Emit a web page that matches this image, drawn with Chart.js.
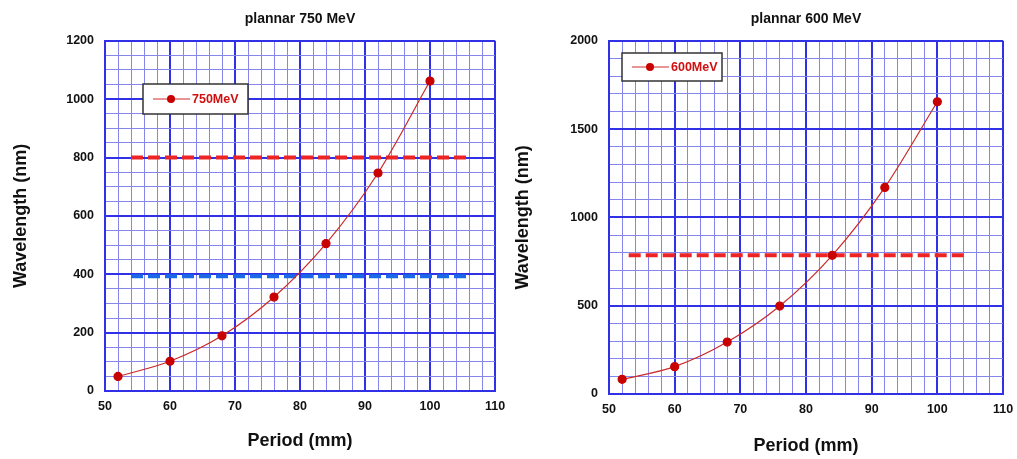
<!DOCTYPE html>
<html><head><meta charset="utf-8">
<script src="https://cdn.jsdelivr.net/npm/chart.js@4.4.1/dist/chart.umd.min.js"></script>
<style>
html,body{margin:0;padding:0;background:#fff;width:1017px;height:459px;overflow:hidden}
.box{position:absolute;top:0;height:459px}
#w1{left:0;width:508px}
#w2{left:508px;width:509px}
</style></head><body>
<div class="box" id="w1"><canvas id="c1"></canvas></div>
<div class="box" id="w2"><canvas id="c2"></canvas></div>
<script>
// ---- data ----
const periods = [52, 60, 68, 76, 84, 92, 100];
const wl750 = [50, 102, 189, 322, 505, 747, 1062];
const wl600 = [83, 155, 294, 498, 785, 1170, 1655];
const red750X = [54, 106];
const red750Y = [800, 800];
const blue750X = [54, 106];
const blue750Y = [393, 393];
const red600X = [53, 104.6];
const red600Y = [785, 785];
const xTicks = [50, 60, 70, 80, 90, 100, 110];
const yTicks750 = [0, 200, 400, 600, 800, 1000, 1200];
const yTicks600 = [0, 500, 1000, 1500, 2000];

const FONT = "'Liberation Sans', Arial, sans-serif";
const MAJOR = '#3030e6';
const MINOR = '#8585ec';

function pts(xs, ys) { return xs.map((x, i) => ({x: x, y: ys[i]})); }

const boxLegend = {
  id: 'boxLegend',
  afterDraw(chart, args, o) {
    const ctx = chart.ctx;
    const ds = chart.data.datasets[0];
    ctx.save();
    ctx.fillStyle = '#fff';
    ctx.fillRect(o.x, o.y, o.w, o.h);
    ctx.strokeStyle = '#333';
    ctx.lineWidth = 1.5;
    ctx.strokeRect(o.x, o.y, o.w, o.h);
    const cy = o.y + o.h / 2;
    ctx.strokeStyle = '#d02a2a';
    ctx.lineWidth = 1;
    ctx.beginPath();
    ctx.moveTo(o.x + 10, cy);
    ctx.lineTo(o.x + 47, cy);
    ctx.stroke();
    ctx.fillStyle = '#c80000';
    ctx.beginPath();
    ctx.arc(o.x + 28, cy, 4, 0, Math.PI * 2);
    ctx.fill();
    ctx.fillStyle = '#d01010';
    ctx.font = 'bold 12.5px ' + FONT;
    ctx.textBaseline = 'middle';
    ctx.textAlign = 'left';
    ctx.fillText(ds.label, o.x + 49, cy + 0.5);
    ctx.restore();
  }
};

function makeChart(id, cfg) {
  const majorX = v => xTicks.includes(v);
  const majorY = v => cfg.yTicks.includes(v);
  const datasets = [{
    label: cfg.label,
    data: pts(periods, cfg.values),
    borderColor: '#cc2a2a',
    borderWidth: 1.2,
    backgroundColor: '#c80000',
    pointBackgroundColor: '#c80000',
    pointBorderColor: '#c80000',
    pointRadius: 4,
    pointHoverRadius: 4,
    tension: 0.4,
    cubicInterpolationMode: 'monotone',
    showLine: true
  }];
  cfg.refs.forEach(r => datasets.push({
    label: '',
    data: pts(r.x, r.y),
    borderColor: r.color,
    borderWidth: 4,
    borderDash: [12, 5],
    pointRadius: 0,
    showLine: true,
    fill: false
  }));
  return new Chart(document.getElementById(id), {
    type: 'scatter',
    data: {datasets},
    options: {
      responsive: true,
      maintainAspectRatio: false,
      animation: false,
      events: [],
      layout: {padding: {left: 0, right: cfg.padRight, top: 0, bottom: 0}},
      plugins: {
        legend: {display: false},
        tooltip: {enabled: false},
        title: {
          display: true, text: cfg.title, fullSize: false,
          color: '#111', font: {family: FONT, size: 14, weight: 'bold'},
          padding: {top: 11, bottom: 13}
        },
        boxLegend: cfg.legend
      },
      scales: {
        x: {
          type: 'linear', min: 50, max: 110,
          afterFit: s => { s.height = cfg.xh; s.paddingRight = 0; s.paddingLeft = 0; },
          ticks: {
            stepSize: 2, autoSkip: false, maxRotation: 0,
            callback: v => majorX(v) ? String(v) : '',
            color: '#111', font: {family: FONT, size: 12.5, weight: 'bold'}, padding: 8
          },
          grid: {
            drawTicks: false,
            color: c => majorX(c.tick.value) ? MAJOR : MINOR,
            lineWidth: c => majorX(c.tick.value) ? 2 : 1
          },
          border: {display: true, color: MAJOR, width: 2},
          title: {
            display: true, text: 'Period (mm)', color: '#111',
            font: {family: FONT, size: 18, weight: 'bold'},
            padding: {top: 0, bottom: cfg.xTitlePad}
          }
        },
        y: {
          type: 'linear', min: 0, max: cfg.yMax,
          afterFit: s => { s.width = cfg.yw; },
          ticks: {
            stepSize: cfg.yStep, autoSkip: false,
            callback: v => majorY(v) ? String(v) : '',
            color: '#111', font: {family: FONT, size: 12.5, weight: 'bold'}, padding: 11
          },
          grid: {
            drawTicks: false,
            color: c => majorY(c.tick.value) ? MAJOR : MINOR,
            lineWidth: c => majorY(c.tick.value) ? 2 : 1
          },
          border: {display: true, color: MAJOR, width: 2},
          title: {
            display: true, text: 'Wavelength (nm)', color: '#111',
            font: {family: FONT, size: 18, weight: 'bold'},
            padding: {top: cfg.yTitlePad, bottom: 0}
          }
        }
      }
    },
    plugins: [boxLegend]
  });
}

makeChart('c1', {
  title: 'plannar 750 MeV', label: '750MeV', values: wl750,
  yMax: 1200, yStep: 50, yTicks: yTicks750,
  refs: [{x: red750X, y: red750Y, color: '#ee2424'}, {x: blue750X, y: blue750Y, color: '#1a6ae8'}],
  padRight: 13, yw: 105, xh: 68, xTitlePad: 7, yTitlePad: 10,
  legend: {x: 143, y: 84, w: 105, h: 30}
});
makeChart('c2', {
  title: 'plannar 600 MeV', label: '600MeV', values: wl600,
  yMax: 2000, yStep: 100, yTicks: yTicks600,
  refs: [{x: red600X, y: red600Y, color: '#ee2424'}],
  padRight: 14, yw: 101, xh: 65, xTitlePad: 2, yTitlePad: 4,
  legend: {x: 114, y: 53, w: 100, h: 28}
});
</script>
</body></html>
